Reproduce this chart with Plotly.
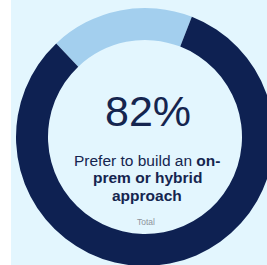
import plotly.graph_objects as go

# Data
labels = ["Other", "Prefer to build an on-prem or hybrid approach"]
values = [18, 82]
slice_colors = ["#A3CFEE", "#0E2152"]
headline = f"{values[1]}%"
caption_lines = ["Prefer to build an <b>on-</b>", "<b>prem or hybrid</b>", "<b>approach</b>"]
footnote = "Total"

W, H = 275, 266
BG = "#E3F6FE"
NAVY = "#15254F"
FONT = "Liberation Sans, Arial"

fig = go.Figure()
fig.add_trace(go.Pie(
    labels=labels,
    values=values,
    hole=0.752,
    sort=False,
    direction="clockwise",
    rotation=-43.5,
    marker=dict(colors=slice_colors, line=dict(width=0)),
    textinfo="none",
    hoverinfo="skip",
    showlegend=False,
    domain=dict(x=[16 / W, 274 / W], y=[0, 1 - 8 / H]),
))

fig.add_shape(type="rect", xref="paper", yref="paper", x0=0, x1=11 / W, y0=0, y1=1,
              fillcolor="white", line=dict(width=0), layer="below")


def place(text, x, y, size, color):
    fig.add_annotation(x=x / W, y=1 - y / H, xref="paper", yref="paper",
                       xanchor="center", yanchor="middle",
                       text=text, showarrow=False, align="center",
                       font=dict(family=FONT, size=size, color=color))


place(headline, 148, 111, 43, NAVY)
for i, line in enumerate(caption_lines):
    place(line, 147, 160 + 17.5 * i, 15.5, NAVY)
place(footnote, 146, 222, 8.5, "#8E939B")

fig.update_layout(
    width=W, height=H,
    margin=dict(l=0, r=0, t=0, b=0),
    paper_bgcolor=BG,
    plot_bgcolor=BG,
)

fig.write_html(
    "out.html",
    config={"displayModeBar": False},
    post_script="document.body.style.margin='0';document.body.style.overflow='hidden';"
                "document.documentElement.style.overflow='hidden';",
)
